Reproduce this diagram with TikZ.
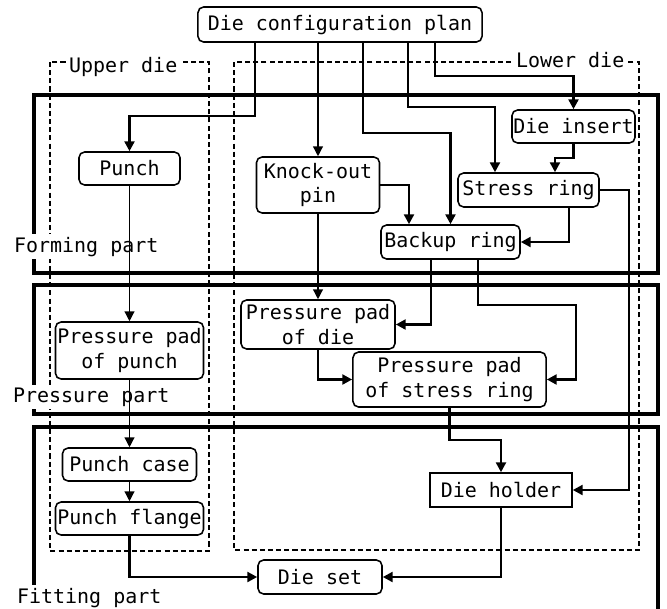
\documentclass[tikz,border=0pt]{standalone}
\usepackage{fontspec}
\setmainfont{DejaVu Sans Mono}
\usetikzlibrary{arrows.meta}
\begin{document}
\begin{tikzpicture}[x=0.025cm,y=-0.025cm,
  font=\fontsize{14.2}{17.5}\selectfont,
  part/.style={draw,line width=1.1pt,rounded corners=4pt,fill=white,align=center,inner sep=0pt},
  partframe/.style={line width=2.8pt},
  die/.style={line width=1.1pt,dash pattern=on 3.6pt off 2.2pt},
  flow/.style={-{Triangle[length=7pt,width=7pt]},line width=2.1pt},
  link/.style={-{Triangle[length=7pt,width=7pt]},line width=0.9pt},
  tag/.style={fill=white,inner sep=2pt,anchor=base west}]
\useasboundingbox (0,0) rectangle (667,608);
\draw[partframe] (34,95) rectangle (658,273);
\draw[partframe] (34,285) rectangle (658,414);
\draw[partframe] (34,427) rectangle (658,615);
\draw[die] (50,62) rectangle (209,551);
\draw[die] (234,62) rectangle (639,550);
\node[tag](upper) at (66,72) {Upper die};
\node[tag](lower) at (513,67) {Lower die};
\node[tag](forming) at (11,252) {Forming part};
\node[tag](pressure) at (10,402) {Pressure part};
\node[tag](fitting) at (14,603) {Fitting part};

\node[part,minimum width=7.1cm,minimum height=0.875cm](plan) at (340,24.5) {Die configuration plan};
\node[part,minimum width=2.525cm,minimum height=0.825cm](punch) at (129.5,168.5) {Punch};
\node[part,minimum width=3.075cm,minimum height=1.4cm](pin) at (318,185) {Knock-out\\pin};
\node[part,minimum width=3.075cm,minimum height=0.825cm](insert) at (573.5,126.5) {Die insert};
\node[part,minimum width=3.525cm,minimum height=0.85cm](stress) at (528.5,190) {Stress ring};
\node[part,minimum width=3.475cm,minimum height=0.85cm](backup) at (450.5,242) {Backup ring};
\node[part,minimum width=3.7cm,minimum height=1.425cm](padpunch) at (129.5,350.5) {Pressure pad\\of punch};
\node[part,minimum width=3.85cm,minimum height=1.225cm](paddie) at (318,324.5) {Pressure pad\\of die};
\node[part,minimum width=4.825cm,minimum height=1.375cm](padstress) at (449.5,379.5) {Pressure pad\\of stress ring};
\node[part,minimum width=3.35cm,minimum height=0.825cm](case) at (129.5,464.5) {Punch case};
\node[part,minimum width=3.7cm,minimum height=0.825cm](flange) at (129.5,518.5) {Punch flange};
\node[part,rounded corners=0pt,minimum width=3.55cm,minimum height=0.85cm](holder) at (501,490) {Die holder};
\node[part,minimum width=3.1cm,minimum height=0.85cm](dieset) at (320,577) {Die set};

\draw[flow] (plan.south -| 255,0) -- (255,116) -| (punch.north);
\draw[link] (plan.south -| pin.north) -- (pin.north);
\draw[flow] (plan.south -| 363,0) -- (363,133) -| (backup.north);
\draw[flow] (plan.south -| 408,0) -- (408,107) -| (495,0 |- stress.north);
\draw[flow] (plan.south -| 435,0) -- (435,76) -| (insert.north);
\draw[flow] (insert.south) |- (555,158) -- (555,0 |- stress.north);
\draw[flow] (pin.east) -| (409,0 |- backup.north);
\draw[flow] (569,0 |- stress.south) |- (backup.east);
\draw[flow] (stress.east) -- (629,190) |- (holder.east);
\draw[link] (punch.south) -- (padpunch.north);
\draw[link] (pin.south) -- (paddie.north);
\draw[flow] (431,0 |- backup.south) |- (paddie.east);
\draw[flow] (478,0 |- backup.south) |- (576,305) |- (padstress.east);
\draw[flow] (paddie.south) |- (padstress.west);
\draw[link] (padpunch.south) -- (case.north);
\draw[link] (case.south) -- (flange.north);
\draw[flow] (flange.south) |- (dieset.west);
\draw[flow] (padstress.south) -- (padstress.south |- 0,440) -| (holder.north);
\draw[flow] (holder.south) |- (dieset.east);
\end{tikzpicture}
\end{document}
